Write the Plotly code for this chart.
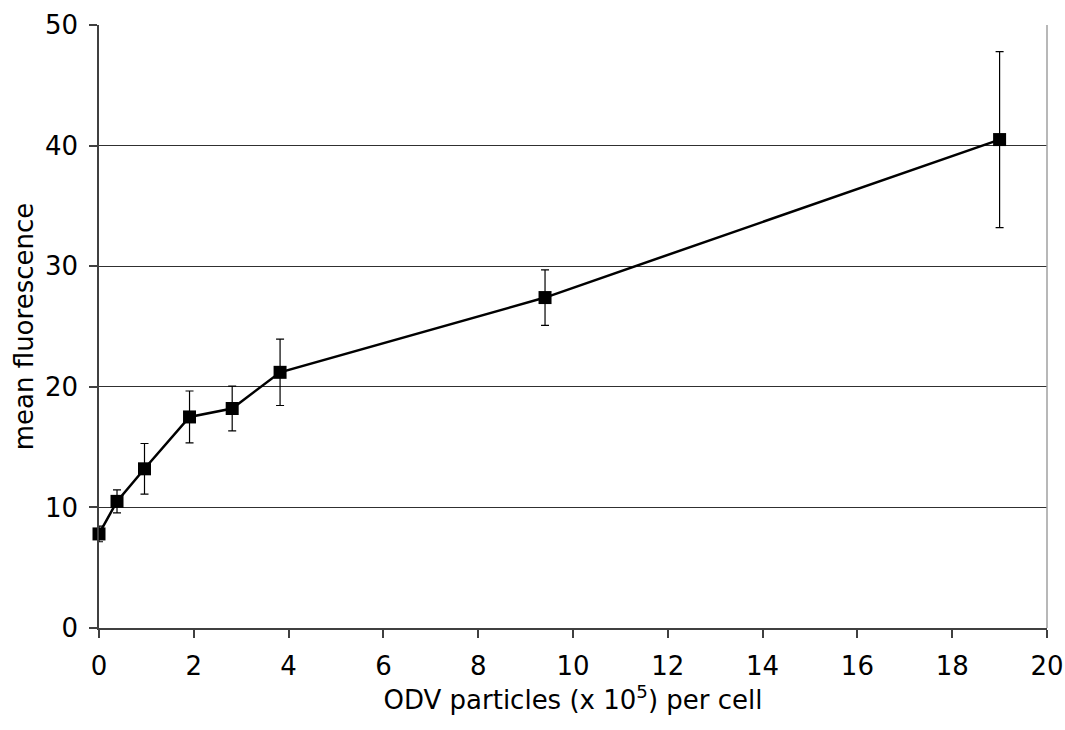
import plotly.graph_objects as go

particles = [0.0, 0.38, 0.96, 1.91, 2.81, 3.82, 9.41, 19.0]
fluorescence = [7.8, 10.5, 13.2, 17.5, 18.2, 21.2, 27.4, 40.5]
err = [0.65, 0.95, 2.1, 2.15, 1.85, 2.75, 2.3, 7.3]

x_ticks = list(range(0, 21, 2))
y_ticks = list(range(0, 51, 10))

font_family = "Verdana, DejaVu Sans, sans-serif"

fig = go.Figure()
fig.add_trace(go.Scatter(
    x=particles, y=fluorescence,
    mode="lines+markers",
    line=dict(color="black", width=2.5),
    marker=dict(symbol="square", size=13, color="black"),
    error_y=dict(type="data", array=err, visible=True, color="black", thickness=1.2, width=4),
    cliponaxis=False,
    showlegend=False,
))

fig.add_shape(type="line", xref="x domain", yref="y domain", x0=1, x1=1, y0=0, y1=1,
              line=dict(color="#a0a0a0", width=1.5))

fig.update_layout(
    width=1065, height=730,
    margin=dict(l=99, r=18, t=25, b=102, autoexpand=False),
    paper_bgcolor="white", plot_bgcolor="white",
    font=dict(family=font_family, size=26, color="black"),
    xaxis=dict(
        range=[0, 20], tickvals=x_ticks, ticktext=[str(v) for v in x_ticks],
        automargin=False, ticklabeloverflow="allow", ticklabelstandoff=6,
        showgrid=False, zeroline=False,
        showline=True, linecolor="#404040", linewidth=1.5,
        ticks="outside", ticklen=8, tickcolor="#404040", tickwidth=1.5,
        tickfont=dict(size=26),
        title=dict(text="ODV particles (x 10<sup>5</sup>) per cell", font=dict(size=26), standoff=11),
    ),
    yaxis=dict(
        range=[0, 50], tickvals=y_ticks, ticktext=[str(v) for v in y_ticks],
        automargin=False, ticklabeloverflow="allow", ticklabelstandoff=6,
        showgrid=True, gridcolor="#303030", gridwidth=1,
        zeroline=False,
        showline=True, linecolor="#404040", linewidth=1.5,
        ticks="outside", ticklen=8, tickcolor="#404040", tickwidth=1.5,
        tickfont=dict(size=26),
        title=dict(text="mean fluorescence", font=dict(size=26), standoff=4),
    ),
)

fig.write_html(
    "out.html",
    config={"displayModeBar": False},
    post_script="document.body.style.margin='0';document.body.style.overflow='hidden';",
)
